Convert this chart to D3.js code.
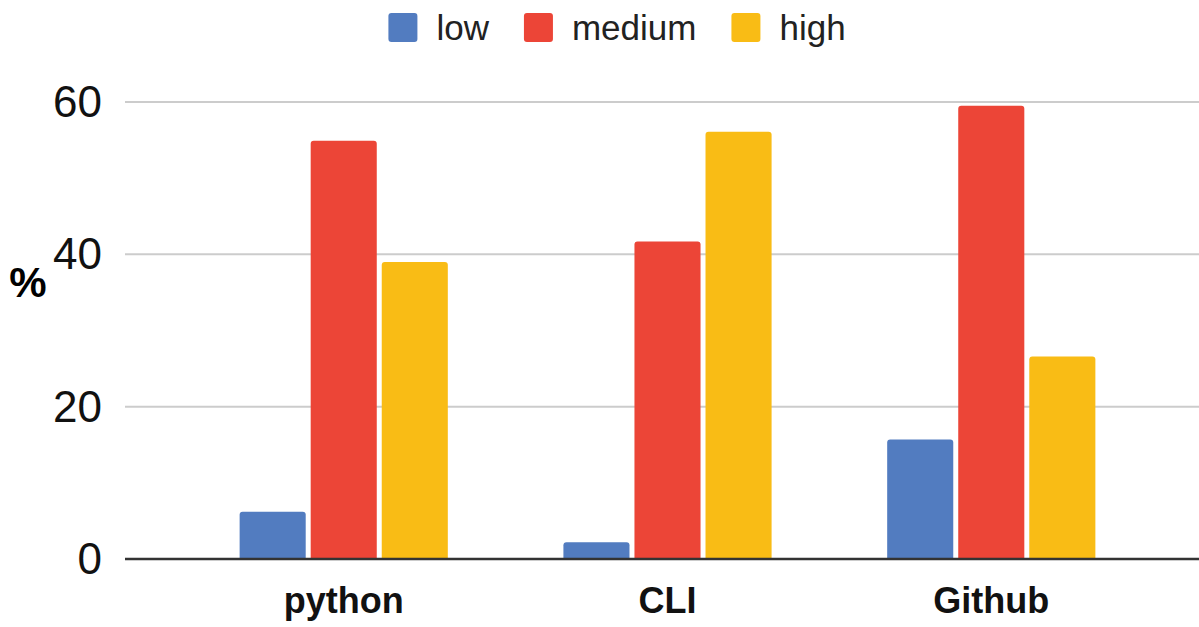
<!DOCTYPE html>
<html>
<head>
<meta charset="utf-8">
<script src="https://cdn.jsdelivr.net/npm/d3@7"></script>
<style>
  body { margin: 0; background: #fff; }
  text { font-family: 'Liberation Sans', Arial, sans-serif; }
</style>
</head>
<body>
<div id="chart"></div>
<script>
var categories = ['python', 'CLI', 'Github']
var series = ['low', 'medium', 'high']
var lowVals = [6.2, 2.2, 15.7]
var mediumVals = [54.9, 41.7, 59.5]
var highVals = [39.0, 56.1, 26.6]
var yTicks = [0, 20, 40, 60]
var colors = ['#527cc0', '#ec4537', '#f9bc15']

var width = 1199, height = 627
var svg = d3.select('#chart').append('svg').attr('width', width).attr('height', height)

var values = [lowVals, mediumVals, highVals]
var data = categories.map(function(c, i) {
    return { cat: c, vals: series.map(function(s, j) { return { key: s, idx: j, v: values[j][i] } }) }
})

var y = d3.scaleLinear().domain([0, 60]).range([559, 102])
var x0 = d3.scaleBand().domain(categories).range([182, 1153]).paddingInner(0.357).paddingOuter(0.178)
var x1 = d3.scaleBand().domain(series).range([0, x0.bandwidth()]).paddingInner(0.07)

// gridlines
svg.append('g')
    .selectAll('line')
    .data(yTicks.filter(function(d) { return d > 0 }))
    .enter().append('line')
    .attr('x1', 125).attr('x2', width)
    .attr('y1', function(d) { return y(d) }).attr('y2', function(d) { return y(d) })
    .style('stroke', '#cccccc').style('stroke-width', 2)

// y tick labels
svg.append('g')
    .selectAll('text')
    .data(yTicks)
    .enter().append('text')
    .attr('x', 102)
    .attr('y', function(d) { return y(d) + 15 })
    .attr('text-anchor', 'end')
    .style('font-size', '44px')
    .style('fill', '#111')
    .text(function(d) { return d })

// % label
svg.append('text')
    .attr('x', 28).attr('y', 297)
    .attr('text-anchor', 'middle')
    .style('font-size', '42px').style('font-weight', 'bold').style('fill', '#000')
    .text('%')

// bars with rounded top corners
function barPath(x, yTop, w, yBot) {
    var r = Math.min(3, (yBot - yTop) / 2)
    return 'M' + x + ',' + yBot +
        'V' + (yTop + r) +
        'Q' + x + ',' + yTop + ' ' + (x + r) + ',' + yTop +
        'H' + (x + w - r) +
        'Q' + (x + w) + ',' + yTop + ' ' + (x + w) + ',' + (yTop + r) +
        'V' + yBot + 'Z'
}

var groups = svg.append('g').selectAll('g')
    .data(data)
    .enter().append('g')
    .attr('transform', function(d) { return 'translate(' + x0(d.cat) + ',0)' })

groups.selectAll('path')
    .data(function(d) { return d.vals })
    .enter().append('path')
    .attr('d', function(d) { return barPath(x1(d.key), y(d.v), x1.bandwidth(), y(0)) })
    .style('fill', function(d) { return colors[d.idx] })

// baseline
svg.append('line')
    .attr('x1', 125).attr('x2', width)
    .attr('y1', y(0)).attr('y2', y(0))
    .style('stroke', '#333').style('stroke-width', 2.5)

// x labels
svg.append('g')
    .selectAll('text')
    .data(categories)
    .enter().append('text')
    .attr('x', function(d) { return x0(d) + x0.bandwidth() / 2 })
    .attr('y', 613)
    .attr('text-anchor', 'middle')
    .style('font-size', '36px').style('font-weight', 'bold').style('fill', '#111')
    .text(function(d) { return d })

// legend
var legend = svg.append('g')
var cx = 0
series.forEach(function(s, i) {
    var g = legend.append('g')
    g.append('rect').attr('x', cx).attr('y', 13).attr('width', 29).attr('height', 29)
        .attr('rx', 3).style('fill', colors[i])
    var t = g.append('text').attr('x', cx + 48).attr('y', 40)
        .style('font-size', '35px').style('fill', '#222').text(s)
    cx = cx + 48 + t.node().getComputedTextLength() + 35
})
var legendW = cx - 35
legend.attr('transform', 'translate(' + (617 - legendW / 2) + ',0)')
</script>
</body>
</html>
